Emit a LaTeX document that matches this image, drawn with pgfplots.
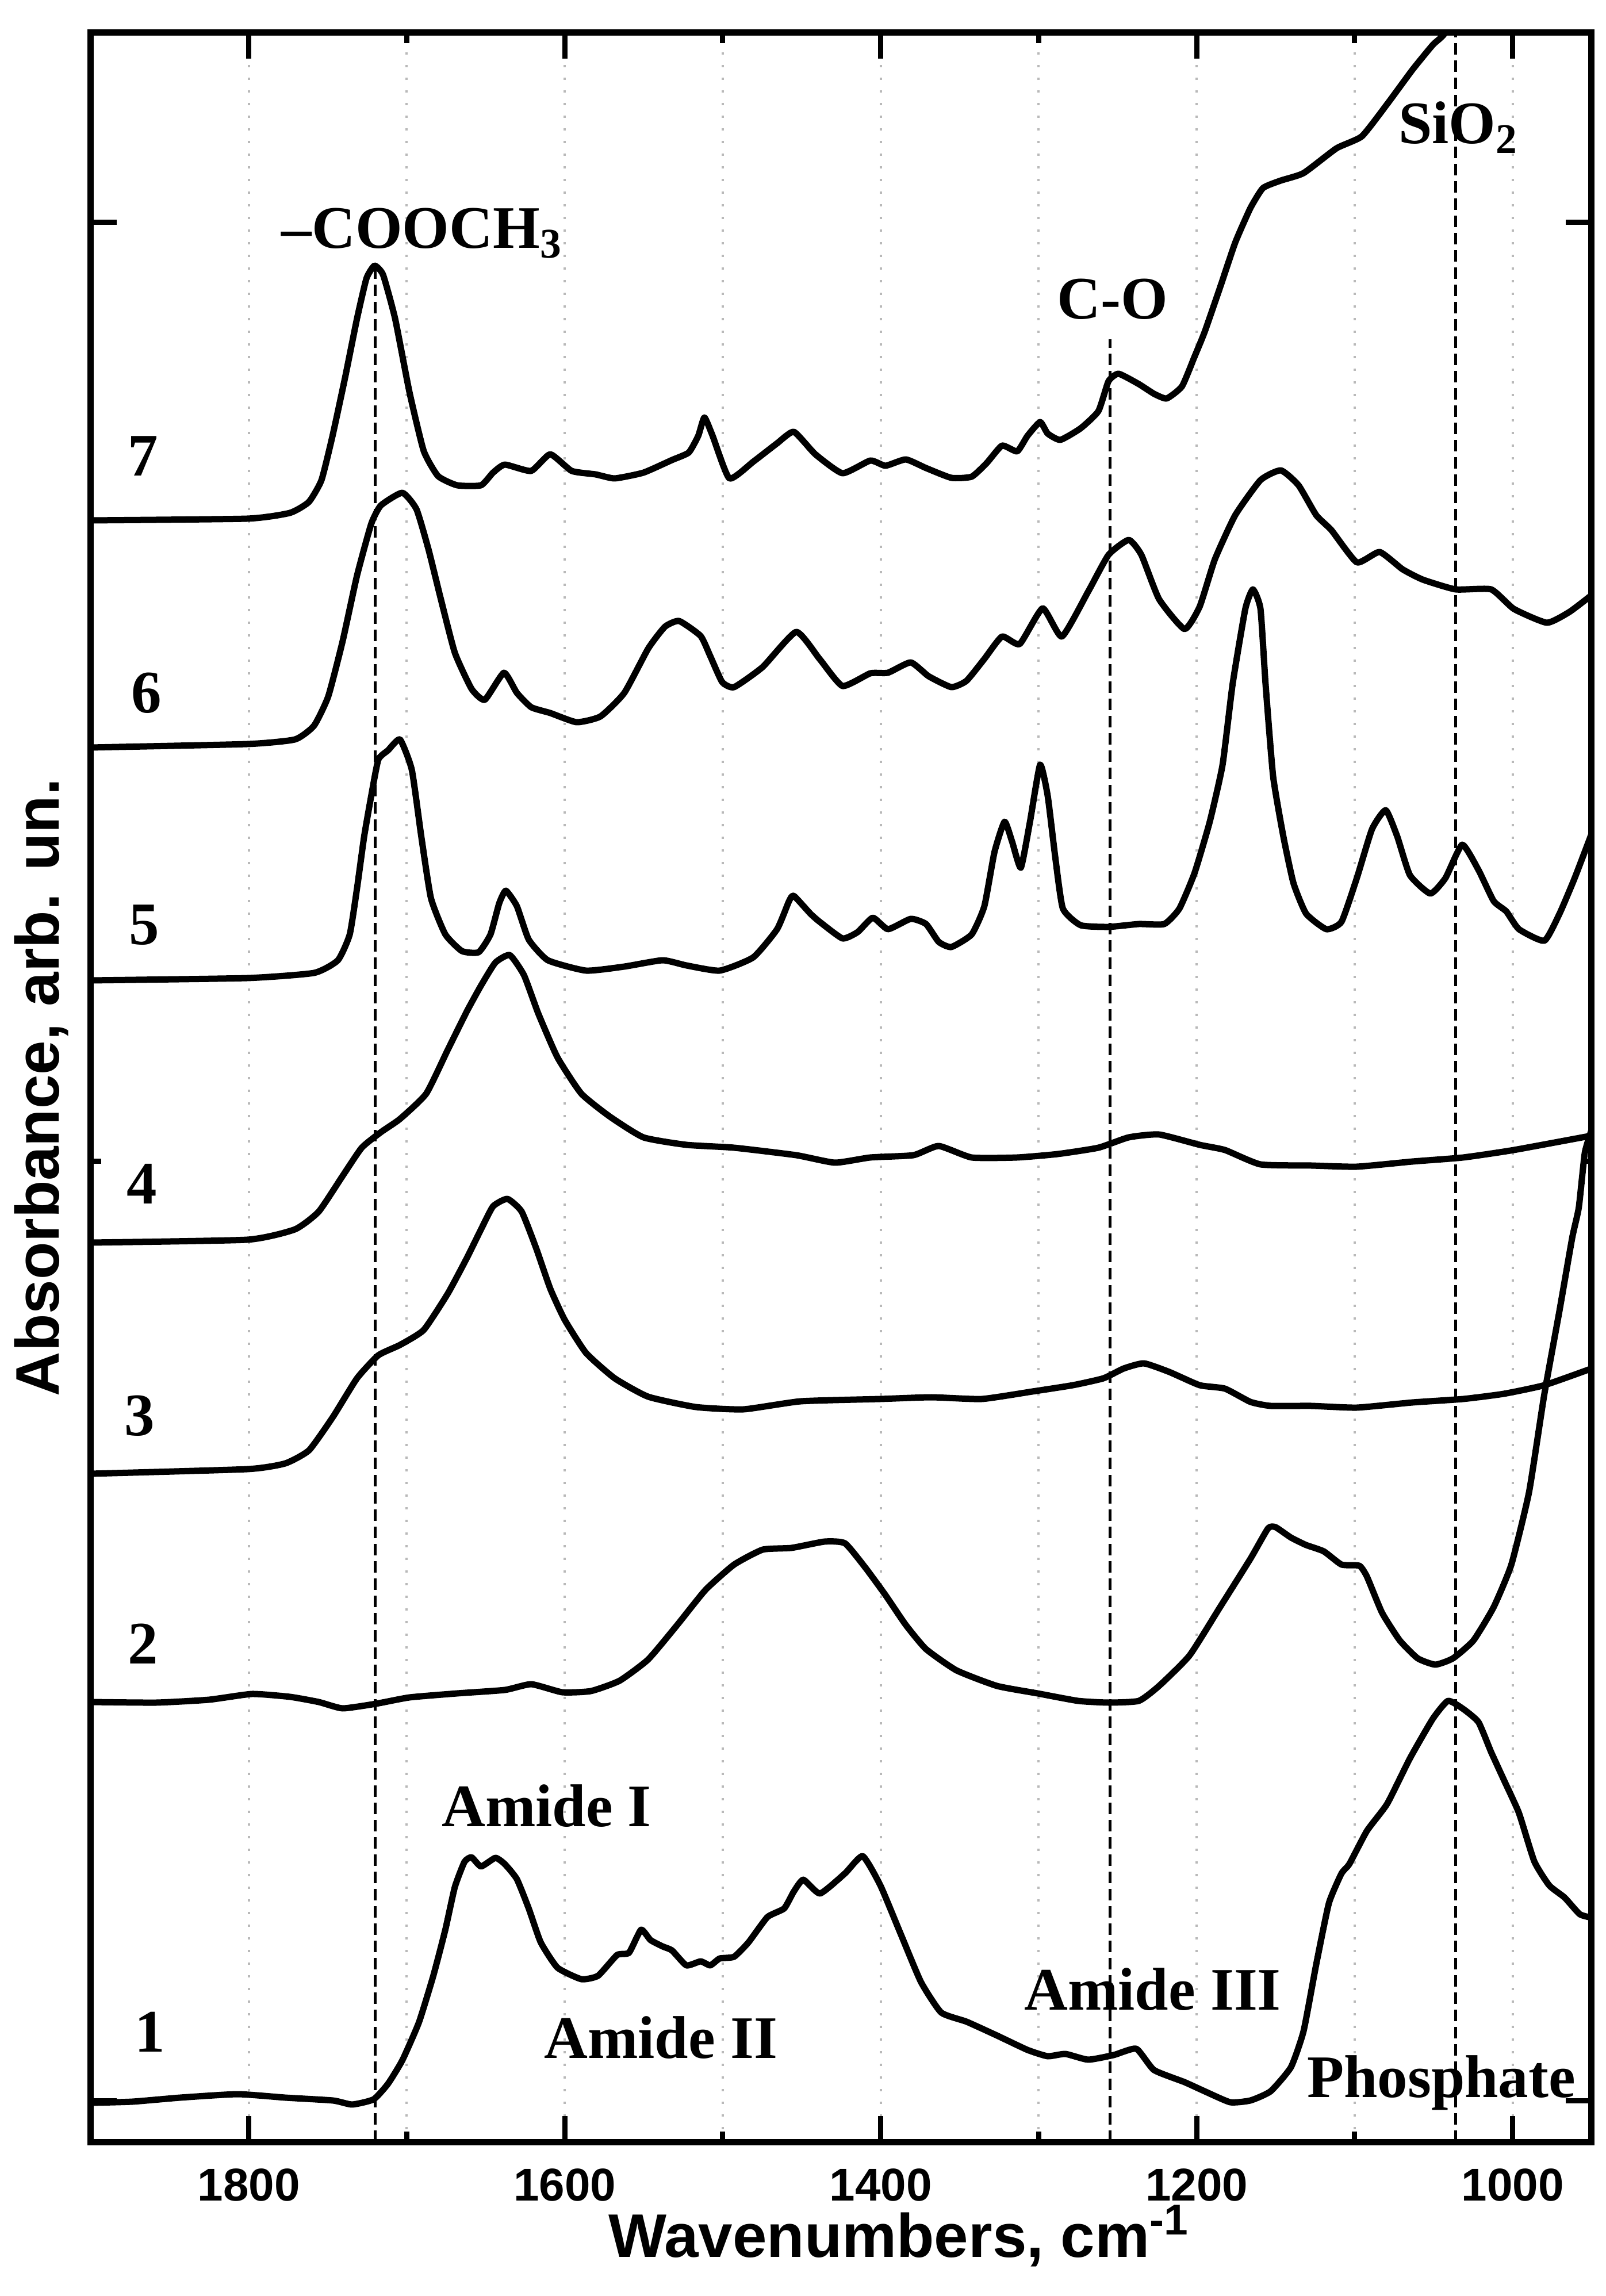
\documentclass[border=0pt]{standalone}
\usepackage{fontspec}
\setmainfont{Liberation Serif}
\setsansfont{Liberation Sans}
\usepackage{pgfplots}
\pgfplotsset{compat=1.18}
\usetikzlibrary{calc}

\newcommand{\annfont}{\rmfamily\bfseries\fontsize{10.5}{12}\selectfont}

\begin{document}
\begin{tikzpicture}
\begin{axis}[
    name=ax,
    scale only axis,
    width=261pt, height=366.8pt,
    x dir=reverse,
    xmin=950, xmax=1900,
    ymin=0, ymax=36.68,
    xtick={1000,1200,1400,1600,1800},
    xticklabels={1000,1200,1400,1600,1800},
    minor xtick={1100,1300,1500,1700},
    ytick={0.72,33.38},
    minor ytick={17.05},
    yticklabels={},
    tick align=inside,
    xtick pos=both, ytick pos=both,
    major tick length=4.5pt,
    minor tick length=1.8pt,
    every tick/.append style={black, line width=0.9pt},
    xmajorgrids, xminorgrids,
    grid style={gray!55, line width=0.4pt, dash pattern=on 0.4pt off 1.8pt},
    axis line style={line width=1.1pt},
    /pgf/number format/assume math mode=true,
    ticklabel style={font=\sffamily\bfseries\fontsize{8}{8}\selectfont, inner sep=0pt},
    xticklabel style={anchor=base, yshift=-10.2pt},
    xlabel={Wavenumbers, cm\textsuperscript{-1}},
    xlabel style={at={(axis description cs:0.539,-0.0548)}, anchor=base, inner sep=0pt,
        font=\sffamily\bfseries\fontsize{10.7}{12}\selectfont},
    ylabel={Absorbance, arb. un.},
    ylabel style={at={(axis description cs:-0.0211,0.5)}, anchor=base, inner sep=0pt,
        font=\sffamily\bfseries\fontsize{10.7}{12}\selectfont},
    spec/.style={black, no markers, line width=1.1pt, line join=round, smooth, tension=0.3},
    marker/.style={black, no markers, line width=0.5pt, dash pattern=on 2pt off 1pt},
]

% marker lines
\addplot[marker] coordinates {(1720,0) (1720,32.6)};
\addplot[marker] coordinates {(1255,0) (1255,31.35)};
\addplot[marker] coordinates {(1036,0) (1036,36.68)};

% 7
\addplot[spec] coordinates {
(1900,28.20) (1801,28.23) (1774,28.33) (1762,28.52) (1754,28.90) (1747,29.67) (1739,30.69)
(1731.5,31.71) (1725.5,32.41) (1720.4,32.63) (1715,32.47) (1707.4,31.71) (1698.3,30.43)
(1689.3,29.41) (1680.2,28.97) (1668.1,28.81) (1653,28.81) (1645.4,29.03) (1637.9,29.17)
(1621.3,29.06) (1609.2,29.35) (1595.6,29.06) (1580.5,29.00) (1568.4,28.93) (1550.2,29.03)
(1532.1,29.25) (1521.5,29.38) (1515.5,29.67) (1511.6,29.99) (1506.4,29.67) (1495.8,28.93)
(1480.7,29.22) (1465.6,29.54) (1455,29.74) (1441.4,29.35) (1424.2,29.02) (1406.6,29.24)
(1397,29.15) (1384.1,29.26) (1371.3,29.11) (1355.3,28.94) (1342.4,28.96) (1332.8,29.20)
(1323.2,29.50) (1313.6,29.40) (1307.1,29.67) (1299.1,29.91) (1294.3,29.71) (1286.3,29.60)
(1273.5,29.80) (1262.2,30.10) (1255.8,30.62) (1249.4,30.75) (1236.6,30.57) (1226.9,30.40)
(1219,30.32) (1209.3,30.53) (1201.3,31.05) (1194.9,31.48) (1185.2,32.25) (1175.6,33.03)
(1166,33.63) (1158,33.98) (1146.7,34.11) (1132.3,34.24) (1111.5,34.67) (1095.4,34.88)
(1079.4,35.44) (1063.3,36.04) (1050.5,36.47) (1042.5,36.69) (1030,37.5)
};

% 6
\addplot[spec] coordinates {
(1900,24.25) (1801,24.31) (1770.8,24.39) (1758.7,24.63) (1749.7,25.14) (1740.6,26.10)
(1731.5,27.24) (1722.5,28.14) (1716.4,28.46) (1702.8,28.68) (1693.8,28.39) (1686.2,27.69)
(1678.7,26.86) (1669.6,25.90) (1659,25.27) (1650.6,25.08) (1638.5,25.55) (1630.3,25.20)
(1621.2,24.95) (1609.2,24.85) (1592.5,24.69) (1577.4,24.79) (1562.3,25.20) (1547.2,25.97)
(1536.6,26.35) (1527.6,26.45) (1514,26.19) (1507.9,25.84) (1500.4,25.39) (1492.8,25.30)
(1474.7,25.65) (1453.5,26.26) (1438.7,25.79) (1424.2,25.32) (1406.6,25.54) (1395.4,25.55)
(1381,25.73) (1369.7,25.49) (1355.3,25.30) (1345.7,25.41) (1334.4,25.79) (1323.2,26.18)
(1312,26.05) (1297.5,26.67) (1285.3,26.18) (1268.7,26.96) (1255.8,27.60) (1243,27.86)
(1235,27.60) (1223.8,26.83) (1207.7,26.31) (1198.1,26.70) (1188.5,27.52) (1175.6,28.29)
(1159.6,28.90) (1146.7,29.07) (1135.5,28.81) (1124.3,28.29) (1114.7,28.03) (1098.6,27.47)
(1084.2,27.65) (1069.7,27.35) (1056.9,27.17) (1036.1,27.00) (1013.6,27.00) (999.2,26.66)
(978.3,26.42) (963.9,26.61) (950,26.9)
};

% 5
\addplot[spec] coordinates {
(1900,20.20) (1801,20.24) (1758.7,20.33) (1743.6,20.55) (1736.1,21.00) (1731.5,21.80)
(1727,22.70) (1722.5,23.41) (1718,24.04) (1711.9,24.20) (1704.3,24.39) (1696.8,23.86)
(1690.8,22.70) (1684.7,21.63) (1675.6,21.00) (1665.1,20.71) (1654.5,20.69) (1647,21.00)
(1641.5,21.54) (1637.3,21.76) (1630.3,21.49) (1622.8,20.91) (1610.7,20.55) (1586.5,20.37)
(1562.3,20.44) (1538.1,20.55) (1523,20.46) (1501.9,20.37) (1480.7,20.60) (1465.6,21.09)
(1458,21.58) (1455,21.67) (1444.5,21.36) (1438.7,21.22) (1424.2,20.93) (1414.6,21.04)
(1405,21.29) (1395.4,21.09) (1381,21.27) (1371.3,21.18) (1363.3,20.87) (1355.3,20.78)
(1342.4,21.00) (1334.4,21.49) (1328,22.43) (1321.6,22.96) (1316.8,22.61) (1311.3,22.16)
(1305.5,22.96) (1299.1,23.95) (1294.3,23.41) (1289.5,22.34) (1284.7,21.45) (1273.5,21.16)
(1255.8,21.13) (1236.6,21.18) (1220.5,21.18) (1210.9,21.45) (1201.3,22.07) (1191.7,22.96)
(1183.6,23.95) (1177.2,25.36) (1169.2,26.66) (1164.4,27.00) (1159.6,26.66) (1156.4,25.36)
(1151.6,23.75) (1145.1,22.70) (1138.7,21.89) (1130.7,21.36) (1117.9,21.09) (1108.3,21.22)
(1098.6,21.98) (1089,22.83) (1080.3,23.16) (1073,22.70) (1065,22.03) (1052.1,21.71)
(1042.5,21.98) (1031.9,22.56) (1021.6,22.12) (1012,21.58) (1004,21.40) (996,21.09)
(979.9,20.89) (970.3,21.36) (960.7,21.98) (950,22.75)
};

% 4
\addplot[spec] coordinates {
(1900,15.64) (1801,15.69) (1770.8,15.87) (1755.7,16.18) (1740.6,16.80) (1728.5,17.29)
(1716.4,17.56) (1704.3,17.79) (1687.7,18.23) (1674.1,18.99) (1662,19.66) (1653,20.11)
(1643.9,20.51) (1634.8,20.64) (1625.8,20.29) (1616.7,19.62) (1604.6,18.86) (1589.5,18.23)
(1571.4,17.83) (1550.2,17.47) (1523,17.34) (1492.8,17.29) (1453.5,17.16) (1429,17.03)
(1406.6,17.12) (1379.3,17.16) (1363.3,17.32) (1342.4,17.12) (1313.6,17.12) (1287.9,17.18)
(1262.2,17.29) (1243,17.47) (1223.8,17.52) (1198.1,17.34) (1182.1,17.25) (1159.6,17.00)
(1127.5,16.98) (1098.6,16.96) (1063.3,17.05) (1031.3,17.12) (999.2,17.25) (950,17.5)
};

% 3
\addplot[spec] coordinates {
(1900,11.62) (1801,11.70) (1776.9,11.80) (1761.8,12.03) (1746.7,12.61) (1731.5,13.28)
(1718,13.68) (1704.3,13.86) (1689.3,14.12) (1674.1,14.75) (1662,15.37) (1653,15.87)
(1645.4,16.27) (1636.3,16.40) (1627.3,16.18) (1618.2,15.55) (1609.2,14.84) (1600.1,14.30)
(1586.5,13.72) (1568.4,13.28) (1547.2,12.96) (1517,12.78) (1486.8,12.74) (1450.5,12.88)
(1400.2,12.92) (1368.1,12.95) (1336,12.92) (1304,13.05) (1278.3,13.16) (1259,13.28)
(1246.2,13.45) (1233.4,13.54) (1217.3,13.39) (1198.1,13.16) (1182.1,13.10) (1166,12.87)
(1153.2,12.80) (1127.5,12.80) (1098.6,12.77) (1063.3,12.86) (1031.3,12.92) (1005.6,13.01)
(979.9,13.16) (950,13.45)
};

% 2
\addplot[spec] coordinates {
(1900,7.65) (1858.5,7.64) (1825.2,7.69) (1798,7.79) (1773.9,7.74) (1755.7,7.65) (1740.6,7.54)
(1719.5,7.62) (1698.3,7.73) (1668.1,7.80) (1637.9,7.86) (1621.2,7.96) (1601.6,7.82)
(1583.5,7.84) (1565.3,8.02) (1547.2,8.39) (1529.1,8.98) (1510.9,9.60) (1492.8,10.04)
(1474.7,10.30) (1456.5,10.33) (1435.5,10.44) (1422.6,10.41) (1409.8,9.99) (1397,9.51)
(1384.1,8.99) (1371.3,8.57) (1352,8.20) (1326.4,7.93) (1300.7,7.80) (1275.1,7.67)
(1255.8,7.64) (1236.6,7.67) (1223.8,7.93) (1204.5,8.46) (1185.2,9.30) (1166,10.14)
(1154.8,10.67) (1150,10.69) (1140.3,10.51) (1130.7,10.38) (1119.5,10.27) (1108.3,10.04)
(1097,10.02) (1092.2,9.83) (1082.6,9.20) (1071.4,8.72) (1060.1,8.41) (1048.9,8.30)
(1037.7,8.41) (1024.8,8.72) (1012,9.30) (1000.8,10.04) (989.6,11.30) (980,12.99)
(970.3,14.46) (962.3,15.72) (958.1,16.25) (954.3,17.2) (950,17.6)
};

% 1
\addplot[spec] coordinates {
(1900,0.68) (1873.6,0.70) (1843.4,0.77) (1807.1,0.83) (1776.9,0.77) (1746.7,0.72) (1734.6,0.65)
(1721,0.74) (1711.9,1.01) (1702.8,1.42) (1692.3,2.08) (1683.2,2.89) (1675.6,3.69)
(1669.6,4.43) (1663.5,4.87) (1659,4.95) (1653,4.79) (1643.9,4.94) (1637.9,4.83) (1630.3,4.57)
(1622.8,4.06) (1615.2,3.47) (1604.6,3.03) (1589.5,2.83) (1578.9,2.89) (1566.9,3.25)
(1559.3,3.29) (1551.7,3.69) (1545.7,3.51) (1538.1,3.40) (1532.1,3.33) (1523,3.07) (1514,3.14)
(1507.9,3.07) (1501.9,3.19) (1492.8,3.22) (1483.7,3.47) (1471.7,3.91) (1461.1,4.06)
(1455.1,4.35) (1449,4.56) (1438.4,4.32) (1422.6,4.67) (1411.4,4.97) (1400.2,4.46)
(1387.4,3.62) (1374.5,2.78) (1361.7,2.25) (1345.6,2.09) (1326.4,1.85) (1307.1,1.60)
(1294.3,1.49) (1283.1,1.53) (1268.7,1.43) (1252.6,1.51) (1238.2,1.62) (1227,1.25)
(1207.7,1.04) (1194.9,0.88) (1178.8,0.69) (1166,0.72) (1153.2,0.88) (1140.3,1.30)
(1132.3,1.93) (1124.3,3.09) (1116.3,4.15) (1108.3,4.67) (1103.4,4.83) (1092.2,5.41)
(1079.4,5.88) (1065,6.67) (1050.5,7.36) (1040.9,7.67) (1031.3,7.53) (1021.6,7.30)
(1013.6,6.78) (1005.6,6.30) (996,5.72) (986.3,4.88) (976.8,4.46) (967.1,4.25) (957.5,3.96)
(950,3.9)
};

% band labels
\node[anchor=base west, inner sep=0, font=\annfont] at (axis cs:1779.9,32.93) {–COOCH\textsubscript{3}};
\node[anchor=base west, inner sep=0, font=\annfont] at (axis cs:1289,31.70) {C-O};
\node[anchor=base west, inner sep=0, font=\annfont] at (axis cs:1072.9,34.75) {SiO\textsubscript{2}};
\node[anchor=base west, inner sep=0, font=\annfont] at (axis cs:1678.6,5.49) {Amide I};
\node[anchor=base west, inner sep=0, font=\annfont] at (axis cs:1613.7,1.46) {Amide II};
\node[anchor=base west, inner sep=0, font=\annfont] at (axis cs:1309.8,2.30) {Amide III};
\node[anchor=base west, inner sep=0, font=\annfont] at (axis cs:1130.8,0.78) {Phosphate};

% curve numbers
\node[anchor=base west, inner sep=0, font=\annfont] at (axis cs:1877.4,28.97) {7};
\node[anchor=base west, inner sep=0, font=\annfont] at (axis cs:1875,24.85) {6};
\node[anchor=base west, inner sep=0, font=\annfont] at (axis cs:1876.5,20.82) {5};
\node[anchor=base west, inner sep=0, font=\annfont] at (axis cs:1878,16.31) {4};
\node[anchor=base west, inner sep=0, font=\annfont] at (axis cs:1879.6,12.29) {3};
\node[anchor=base west, inner sep=0, font=\annfont] at (axis cs:1877.4,8.32) {2};
\node[anchor=base west, inner sep=0, font=\annfont] at (axis cs:1872.7,1.57) {1};
\end{axis}
\pgfresetboundingbox
\path[use as bounding box] ($(ax.south west)+(-15.8pt,-26.8pt)$) rectangle ($(ax.north east)+(2.5pt,5.7pt)$);
\end{tikzpicture}
\end{document}
